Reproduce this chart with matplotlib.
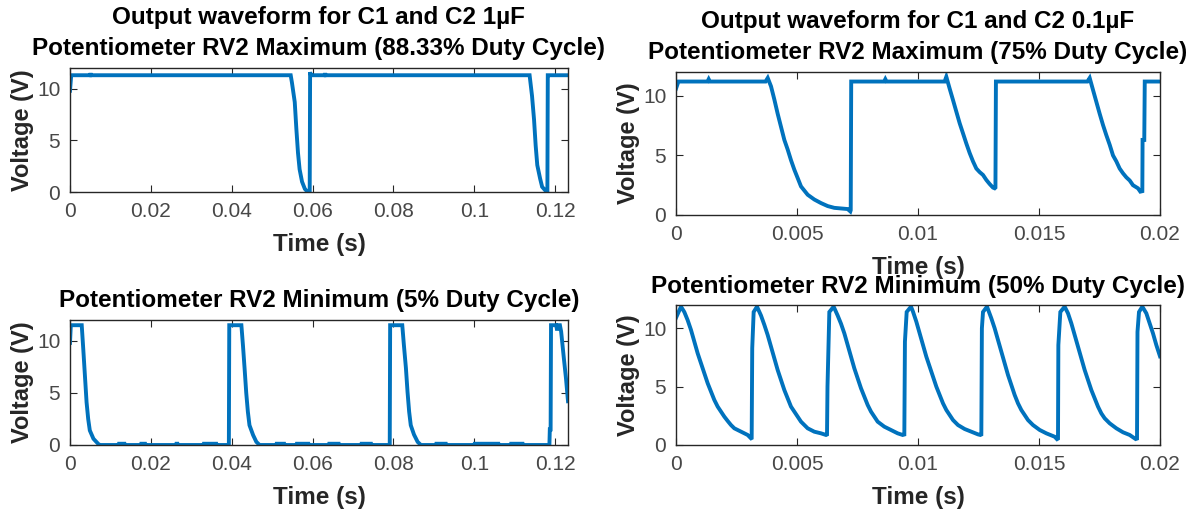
import matplotlib
matplotlib.use("Agg")
import matplotlib.pyplot as plt

plt.rcParams['font.family'] = ['Liberation Sans', 'DejaVu Sans']

# C1, C2 = 1uF, RV2 maximum (88.33 %)
tl_t = [0, 0.0003, 0.0050, 0.0051, 0.0052, 0.0546, 0.0549, 0.0556, 0.0560, 0.0564,
        0.0568, 0.0574, 0.0581, 0.0588, 0.0593, 0.0594, 0.0596, 0.0598, 0.0630, 0.0631,
        0.0632, 0.1137, 0.1143, 0.1148, 0.1152, 0.1156, 0.1163, 0.1168, 0.1177, 0.1181,
        0.1182, 0.1184, 0.1232]
tl_v = [9.8, 11.3, 11.3, 11.5, 11.3, 11.3, 10.6, 8.7, 6.1, 3.8,
        2.2, 1.0, 0.3, 0.0, 0.0, 11.6, 11.3, 11.3, 11.3, 11.5,
        11.3, 11.3, 9.3, 7.0, 4.5, 2.6, 1.3, 0.5, 0.1, 0.0,
        11.3, 11.3, 11.3]

# C1, C2 = 0.1uF, RV2 maximum (75 %)
tr_t = [0, 0.0001, 0.0013, 0.00135, 0.0014, 0.0037, 0.00379,
        0.003926, 0.004063, 0.004201, 0.004339, 0.004477, 0.004614, 0.004752, 0.00489,
        0.005028, 0.005165, 0.005441, 0.005716, 0.005992, 0.006267, 0.006543, 0.007094,
        0.007204, 0.00722, 0.00724, 0.0086, 0.00865, 0.0087, 0.0111, 0.01117,
        0.011309, 0.011446, 0.011584, 0.011722, 0.01186, 0.011997, 0.012135, 0.012273,
        0.01241, 0.012548, 0.012686, 0.012824, 0.012961, 0.013099, 0.013168, 0.0132,
        0.01322, 0.017, 0.017094,
        0.017231, 0.017369, 0.017507, 0.017645, 0.017782, 0.01792, 0.018058, 0.018196,
        0.018333, 0.018471, 0.018609, 0.018747, 0.018884, 0.019091, 0.019187, 0.01927,
        0.01928, 0.01935, 0.01937, 0.02]
tr_v = [10.6, 11.2, 11.2, 11.4, 11.2, 11.2, 11.5,
        10.8, 9.7, 8.5, 7.4, 6.3, 5.5, 4.6, 3.8,
        3.1, 2.4, 1.7, 1.3, 1.0, 0.75, 0.6, 0.5,
        0.3, 0.4, 11.2, 11.2, 11.4, 11.2, 11.2, 11.6,
        10.6, 9.65, 8.67, 7.7, 6.85, 6.0, 5.2, 4.5,
        3.9, 3.6, 3.36, 2.94, 2.6, 2.3, 2.24, 2.3,
        11.2, 11.2, 11.5,
        10.5, 9.5, 8.5, 7.55, 6.7, 5.9, 5.0, 4.5,
        3.9, 3.5, 3.16, 2.9, 2.5, 2.24, 1.96, 2.0,
        6.3, 6.3, 11.2, 11.2]

# C1, C2 = 1uF, RV2 minimum (5 %)
bl_t = [0, 0.0002, 0.0029, 0.0033, 0.0037, 0.0041, 0.0045, 0.0049, 0.0058, 0.0070,
        0.0074, 0.0120, 0.0121, 0.0135, 0.0136, 0.0175, 0.0176, 0.0186, 0.0187, 0.0262,
        0.0263, 0.0266, 0.0267, 0.0330, 0.0331, 0.0362, 0.0363, 0.0393,
        0.0394, 0.0424, 0.0428, 0.0432, 0.0436, 0.0440, 0.0444, 0.0453, 0.0461, 0.0469,
        0.0510, 0.0511, 0.0530, 0.0531, 0.0560, 0.0561, 0.0590, 0.0591, 0.0640, 0.0641,
        0.0665, 0.0666, 0.0720, 0.0721, 0.0745, 0.0746, 0.0791,
        0.0792, 0.0822, 0.0826, 0.0831, 0.0835, 0.0839, 0.0843, 0.0851, 0.0860, 0.0868,
        0.0905, 0.0906, 0.0930, 0.0931, 0.1000, 0.1001, 0.1060, 0.1061, 0.1090, 0.1091,
        0.1120, 0.1121, 0.1186,
        0.1187, 0.1189, 0.1190, 0.1203, 0.1205, 0.1207, 0.1212, 0.1215, 0.1221, 0.1227,
        0.1232]
bl_v = [9.8, 11.5, 11.5, 9.1, 6.6, 4.1, 2.5, 1.4, 0.6, 0.1,
        0.0, 0.0, 0.12, 0.12, 0.0, 0.0, 0.12, 0.12, 0.0, 0.0,
        0.12, 0.12, 0.0, 0.0, 0.12, 0.12, 0.0, 0.0,
        11.5, 11.5, 9.5, 7.3, 5.0, 3.2, 1.9, 0.95, 0.3, 0.0,
        0.0, 0.12, 0.12, 0.0, 0.0, 0.12, 0.12, 0.0, 0.0, 0.12,
        0.12, 0.0, 0.0, 0.12, 0.12, 0.0, 0.0,
        11.5, 11.5, 9.6, 7.4, 5.1, 3.2, 1.9, 1.0, 0.3, 0.0,
        0.0, 0.12, 0.12, 0.0, 0.0, 0.12, 0.12, 0.0, 0.0, 0.12,
        0.12, 0.0, 0.0,
        1.5, 1.5, 11.5, 11.5, 11.0, 11.5, 11.5, 10.9, 8.6, 6.4,
        4.2]

# C1, C2 = 0.1uF, RV2 minimum (50 %)
br_t = [0, 0.000207,
        0.000344, 0.000482, 0.00062, 0.000758, 0.000895, 0.001033, 0.001171, 0.001309,
        0.001446, 0.001584, 0.001722, 0.00186, 0.001997, 0.002135, 0.002273, 0.00241,
        0.002686, 0.002961, 0.003099, 0.003127, 0.00315, 0.003209, 0.003347,
        0.003512, 0.00365, 0.003788, 0.003926, 0.004063, 0.004201, 0.004339, 0.004477,
        0.004614, 0.004752, 0.00489, 0.005028, 0.005165, 0.005441, 0.005716, 0.005992,
        0.006198, 0.00624, 0.00626, 0.006336, 0.006515,
        0.00668, 0.006818, 0.006956, 0.007094, 0.007231, 0.007369, 0.007507, 0.007645,
        0.007782, 0.00792, 0.008058, 0.008196, 0.008333, 0.008609, 0.008884, 0.00916,
        0.009366, 0.009435, 0.00946, 0.009532, 0.009711,
        0.009793, 0.009931, 0.010069, 0.010207, 0.010344, 0.010482, 0.01062, 0.010758,
        0.010895, 0.011033, 0.011171, 0.011309, 0.011446, 0.011653, 0.011928, 0.012204,
        0.01248, 0.012576, 0.012617, 0.01264, 0.012686, 0.012851,
        0.01303, 0.013168, 0.013306, 0.013444, 0.013581, 0.013719, 0.013857, 0.013994,
        0.014132, 0.01427, 0.014408, 0.014545, 0.014752, 0.015028, 0.015303, 0.015647,
        0.015744, 0.015785, 0.0158, 0.015882, 0.01606,
        0.016198, 0.016336, 0.016474, 0.016612, 0.016749, 0.016887, 0.017025, 0.017163,
        0.0173, 0.017438, 0.017576, 0.017713, 0.01792, 0.018196, 0.018471, 0.018747,
        0.018994, 0.01905, 0.01907, 0.019132, 0.01927,
        0.019435, 0.019573, 0.01971, 0.019848, 0.02]
br_v = [10.9, 11.86,
        11.4, 10.7, 9.86, 8.86, 7.86, 7.0, 6.14, 5.29,
        4.57, 3.86, 3.29, 2.86, 2.43, 2.06, 1.71, 1.43,
        1.14, 0.86, 0.57, 0.6, 8.3, 11.4, 11.86,
        11.1, 10.3, 9.43, 8.43, 7.43, 6.43, 5.57, 4.71,
        4.0, 3.29, 2.86, 2.43, 2.0, 1.43, 1.14, 1.0,
        0.86, 0.9, 5.0, 11.4, 11.86,
        11.1, 10.4, 9.57, 8.57, 7.57, 6.57, 5.71, 4.86,
        4.14, 3.43, 2.86, 2.43, 2.0, 1.57, 1.29, 1.0,
        0.86, 0.9, 8.86, 11.4, 11.86,
        11.43, 10.57, 9.57, 8.57, 7.57, 6.71, 5.86, 5.0,
        4.29, 3.57, 3.0, 2.57, 2.14, 1.71, 1.37, 1.14,
        0.91, 0.86, 0.9, 10.0, 11.4, 11.86,
        10.86, 10.0, 9.0, 8.0, 7.0, 6.0, 5.14, 4.29,
        3.57, 3.0, 2.57, 2.14, 1.71, 1.29, 1.0, 0.71,
        0.5, 0.55, 8.57, 11.4, 11.86,
        11.29, 10.43, 9.43, 8.43, 7.43, 6.43, 5.57, 4.71,
        4.0, 3.29, 2.71, 2.29, 1.86, 1.43, 1.09, 0.86,
        0.51, 0.55, 9.7, 11.4, 11.86,
        11.29, 10.43, 9.57, 8.57, 7.6]

titles = ["Output waveform for C1 and C2 1µF\nPotentiometer RV2 Maximum (88.33% Duty Cycle)",
          "Output waveform for C1 and C2 0.1µF\nPotentiometer RV2 Maximum (75% Duty Cycle)",
          "Potentiometer RV2 Minimum (5% Duty Cycle)",
          "Potentiometer RV2 Minimum (50% Duty Cycle)"]
left_ticks = [0, 0.02, 0.04, 0.06, 0.08, 0.1, 0.12]
left_labels = ["0", "0.02", "0.04", "0.06", "0.08", "0.1", "0.12"]
right_ticks = [0, 0.005, 0.01, 0.015, 0.02]
right_labels = ["0", "0.005", "0.01", "0.015", "0.02"]
y_ticks = [0, 5, 10]

W, H = 1191, 513
fig = plt.figure(figsize=(W / 100, H / 100), dpi=100)

def box(x0, x1, top, bottom):
    # pixel box -> figure fraction
    return [x0 / W, 1 - bottom / H, (x1 - x0) / W, (bottom - top) / H]

blue = '#0072BD'
dark = '#262626'
panels = [
    (box(70, 568, 68, 192), tl_t, tl_v, left_ticks, left_labels, 0.1232, titles[0]),
    (box(676, 1160, 72, 215), tr_t, tr_v, right_ticks, right_labels, 0.02, titles[1]),
    (box(70, 568, 320, 445), bl_t, bl_v, left_ticks, left_labels, 0.1232, titles[2]),
    (box(676, 1160, 305, 445), br_t, br_v, right_ticks, right_labels, 0.02, titles[3]),
]

for pos, t, v, xt, xl, xmax, title in panels:
    ax = fig.add_axes(pos)
    ax.plot(t, v, color=blue, lw=2.8, solid_joinstyle='miter')
    ax.set_xlim(0, xmax)
    ax.set_ylim(0, 12)
    ax.set_xticks(xt)
    ax.set_xticklabels(xl)
    ax.set_yticks(y_ticks)
    ax.tick_params(direction='in', length=5, width=0.8, top=True, right=True,
                   labelsize=15, colors=dark, labelcolor='#474747', pad=7)
    for s in ax.spines.values():
        s.set_color(dark)
        s.set_linewidth(1.0)
    ax.set_xlabel("Time (s)", fontsize=17.5, fontweight='bold', color=dark, labelpad=9)
    ax.set_ylabel("Voltage (V)", fontsize=17, fontweight='bold', color=dark, labelpad=2)
    ax.set_title(title, fontsize=17.5, fontweight='bold', color='black', pad=9,
                 linespacing=1.45)

fig.savefig("out.png", dpi=100, facecolor='white')
